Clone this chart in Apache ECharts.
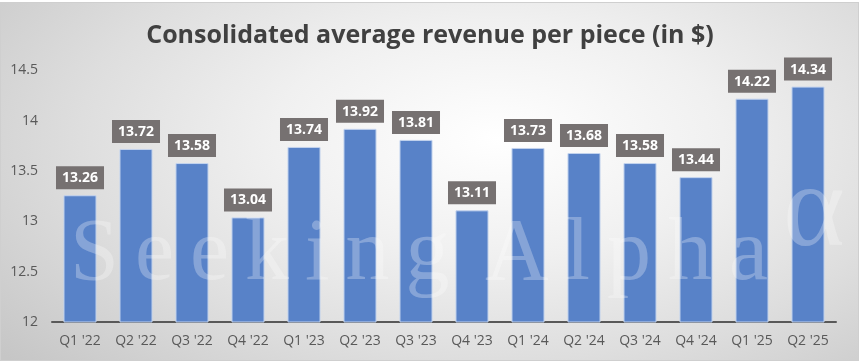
<!DOCTYPE html>
<html>
<head>
<meta charset="utf-8">
<script src="https://cdn.jsdelivr.net/npm/echarts@6/dist/echarts.min.js"></script>
<style>
html,body{margin:0;padding:0;background:#fff;width:860px;height:363px;overflow:hidden;}
#frame{position:absolute;left:0;top:2px;width:857px;height:357px;border:1px solid #cfcfcf;overflow:hidden;
background:radial-gradient(ellipse 75% 95% at 58% 38%, #ffffff 0%, #f0f0f0 35%, #dedede 65%, #c6c6c6 100%);}
#chart{position:absolute;left:0;top:0;width:860px;height:363px;}
</style>
</head>
<body>
<div id="frame"></div>
<div id="chart"></div>
<script>
const categories = ["Q1 '22","Q2 '22","Q3 '22","Q4 '22","Q1 '23","Q2 '23","Q3 '23","Q4 '23","Q1 '24","Q2 '24","Q3 '24","Q4 '24","Q1 '25","Q2 '25"];
const revenuePerPiece = [13.26,13.72,13.58,13.04,13.74,13.92,13.81,13.11,13.73,13.68,13.58,13.44,14.22,14.34];
const yTicks = [12,12.5,13,13.5,14,14.5];
const titleText = "Consolidated average revenue per piece (in $)";

const chart = echarts.init(document.getElementById('chart'), null, {renderer:'canvas'});

// watermark (decoration, not data): letters spaced out like the logo
const wmFont = '88px "Liberation Serif", serif';
const wmFill = 'rgba(255,255,255,0.28)';
const ctx = document.createElement('canvas').getContext('2d');
ctx.font = wmFont;
const graphics = [];
function placeWord(word, startX, spacing) {
  let x = startX;
  for (const ch of word) {
    graphics.push({type:'text', left:x, top:212, z:50, silent:true,
      style:{text:ch, font:wmFont, fill:wmFill}});
    x += ctx.measureText(ch).width + spacing;
  }
}
placeWord('Seeking', 70, 16);
placeWord('Alpha', 485, 17);
graphics.push({type:'text', left:783, top:155, z:50, silent:true,
  style:{text:'α', font:'118px "Liberation Serif", serif', fill:wmFill}});

chart.setOption({
  backgroundColor:'transparent',
  animation:false,
  title:{text:titleText, left:'center', top:18,
    textStyle:{fontFamily:'"Open Sans", sans-serif', fontWeight:'bold', fontSize:25, color:'#404040'}},
  grid:{left:52, right:24, top:70.5, bottom:41, containLabel:false},
  xAxis:{type:'category', data:categories,
    axisLine:{lineStyle:{color:'#595959', width:2}},
    axisTick:{show:false},
    axisLabel:{color:'#595959', fontSize:14, fontFamily:'"Open Sans", sans-serif', margin:12}},
  yAxis:{type:'value', min:yTicks[0], max:yTicks[yTicks.length-1], interval:0.5,
    axisLine:{show:false}, axisTick:{show:false}, splitLine:{show:false},
    axisLabel:{color:'#595959', fontSize:14, fontFamily:'"Open Sans", sans-serif', margin:14}},
  graphic:graphics,
  series:[{
    type:'bar', data:revenuePerPiece, barWidth:'59%',
    itemStyle:{color:'#5882C8', borderColor:'#c3d3ee', borderWidth:1},
    label:{show:true, position:'top', distance:6, formatter:p=>p.value.toFixed(2),
      backgroundColor:'#767171', color:'#ffffff', fontWeight:'bold', fontSize:14,
      fontFamily:'"Open Sans", sans-serif', padding:[5,6,4,6]}
  }]
});
</script>
</body>
</html>
